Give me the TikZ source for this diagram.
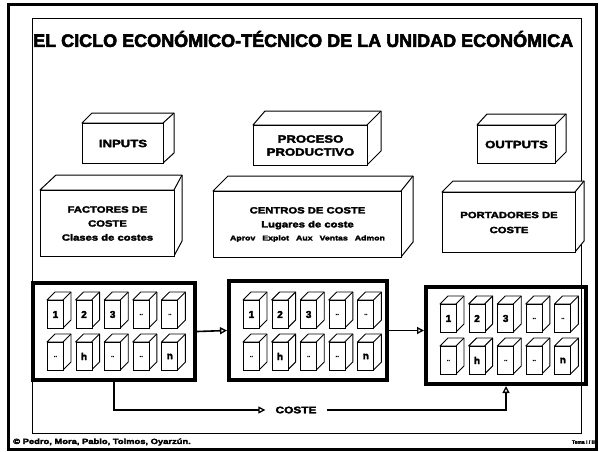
\documentclass[tikz,border=0pt]{standalone}
\usepackage{fontspec}
\setmainfont{Liberation Sans}
\newfontfamily\heavy{Liberation Sans Bold}[FakeBold=3]
\newfontfamily\heavywide{Liberation Sans Bold}[FakeBold=3,FakeStretch=1.25]
\usetikzlibrary{arrows.meta}

\newcommand\boxfont{\heavywide\fontsize{10.5}{12}\selectfont}

\tikzset{
  edge/.style={line width=1pt, line join=round},
  face/.style={draw, fill=white, line width=1pt, inner sep=0pt, align=center, font=\boxfont},
  container/.style={draw, line width=4pt, inner sep=0pt},
  cubeedge/.style={draw, fill=white, line width=0.9pt, line join=round},
  cubeface/.style={draw, fill=white, line width=0.9pt, inner sep=0pt,
    minimum width=16, minimum height=28, font=\heavy\fontsize{10}{10}\selectfont},
  flow/.style={line width=1.6pt, -{Triangle[open, length=7pt, width=7pt, line width=1.3pt]}}
}

% 3D box: name, x1, y1, x2, y2, back-left shift, back-right shift, depth, text
\newcommand\solidbox[9]{%
  \filldraw[edge, fill=white] (#2,#3) -- (#2+#6,#3-#8) -- (#4+#7,#3-#8) -- (#4+#7,#5-#8) -- (#4,#5) -- (#4,#3) -- cycle;
  \draw[edge] (#4,#3) -- (#4+#7,#3-#8);
  \node[face, minimum width={#4-#2}, minimum height={#5-#3}, anchor=north west] (#1) at (#2,#3) {#9};
}
% small cube: name, x, y, label
\newcommand\smallcube[4]{%
  \filldraw[cubeedge] (#2,#3) -- ++(8,-8) -- ++(16,0) -- ++(0,28) -- ++(-8,8) -- ++(0,-28) -- cycle;
  \draw[cubeedge] (#2+16,#3) -- ++(8,-8);
  \node[cubeface, anchor=north west] (#1) at (#2,#3) {#4};
}
\newcommand\dd{\raisebox{-1pt}{\fontsize{6}{6}\selectfont..}}

\begin{document}
\begin{tikzpicture}[x=1pt, y=-1pt]
\useasboundingbox (0,0) rectangle (599,451);
\fill[white] (0,0) rectangle (599,451);

% frames
\draw[line width=3pt] (8,4) rectangle (596,449);
\draw[line width=1pt] (32,18) rectangle (581,433);

% title
\node[font=\heavy\fontsize{18}{18}\selectfont, anchor=west, inner sep=0pt] (title) at (33,39)
  {EL CICLO ECONÓMICO-TÉCNICO DE LA UNIDAD ECONÓMICA};

% first row
\renewcommand\boxfont{\heavywide\fontsize{10.5}{13}\selectfont}
\solidbox{inputs}{82}{123}{163}{163}{10}{11}{10}{INPUTS}
\solidbox{proceso}{253}{125}{367}{165}{12}{14}{14}{PROCESO\\PRODUCTIVO}
\solidbox{outputs}{477}{125}{555}{163}{10}{11}{11}{OUTPUTS}

% second row
\renewcommand\boxfont{\heavywide\fontsize{9}{14}\selectfont}
\solidbox{factores}{40}{190}{174}{256}{16}{8}{15}{FACTORES DE\\COSTE\\Clases de costes}
\solidbox{centros}{213}{191}{401}{257}{15}{12}{15}{CENTROS DE COSTE\\Lugares de coste\\[-1pt]
  {\fontsize{7}{9}\selectfont Aprov\hspace{7pt}Explot\hspace{7pt}Aux\hspace{7pt}Ventas\hspace{7pt}Admon}}
\renewcommand\boxfont{\heavywide\fontsize{9}{15}\selectfont}
\solidbox{portadores}{442}{192}{575}{252}{11}{9}{11}{PORTADORES DE\\COSTE}

% containers
\node[container, minimum width=162, minimum height=97, anchor=north west] (boxA) at (31,281) {};
\node[container, minimum width=158, minimum height=99, anchor=north west] (boxB) at (227,279) {};
\node[container, minimum width=160, minimum height=97, anchor=north west] (boxC) at (424,285) {};

% cubes
\foreach \cx/\cy/\nm in {47/300/A, 243/300/B, 440/304/C}{
  \foreach \k/\t in {0/1, 1/2, 2/3, 3/\dd, 4/\dd}{
    \smallcube{\nm t\k}{\cx+28.6*\k}{\cy}{\t}
  }
  \foreach \k/\t in {0/\dd, 1/h, 2/\dd, 3/\dd, 4/n}{
    \smallcube{\nm b\k}{\cx+28.6*\k}{\cy+42}{\t}
  }
}

% connectors
\draw[flow] (boxA.east) -- (boxB.west);
\draw[flow] (boxB.east) -- (boxB.east -| boxC.west);
\node[font=\heavywide\fontsize{9.5}{10}\selectfont, inner xsep=10pt, inner ysep=2pt] (coste) at (296,410) {COSTE};
\draw[flow] (boxA.south) |- (coste.west);
\draw[flow] (coste.east) -| (boxC.south);

% footer
\node[font=\heavywide\fontsize{7.5}{8}\selectfont, anchor=west, inner sep=0pt] (copy) at (13,442)
  {© Pedro, Mora, Pablo, Tolmos, Oyarzún.};
\node[font=\heavy\fontsize{5}{5}\selectfont, anchor=east, inner sep=0pt] (tema) at (596,442) {Tema I / III};
\end{tikzpicture}
\end{document}
